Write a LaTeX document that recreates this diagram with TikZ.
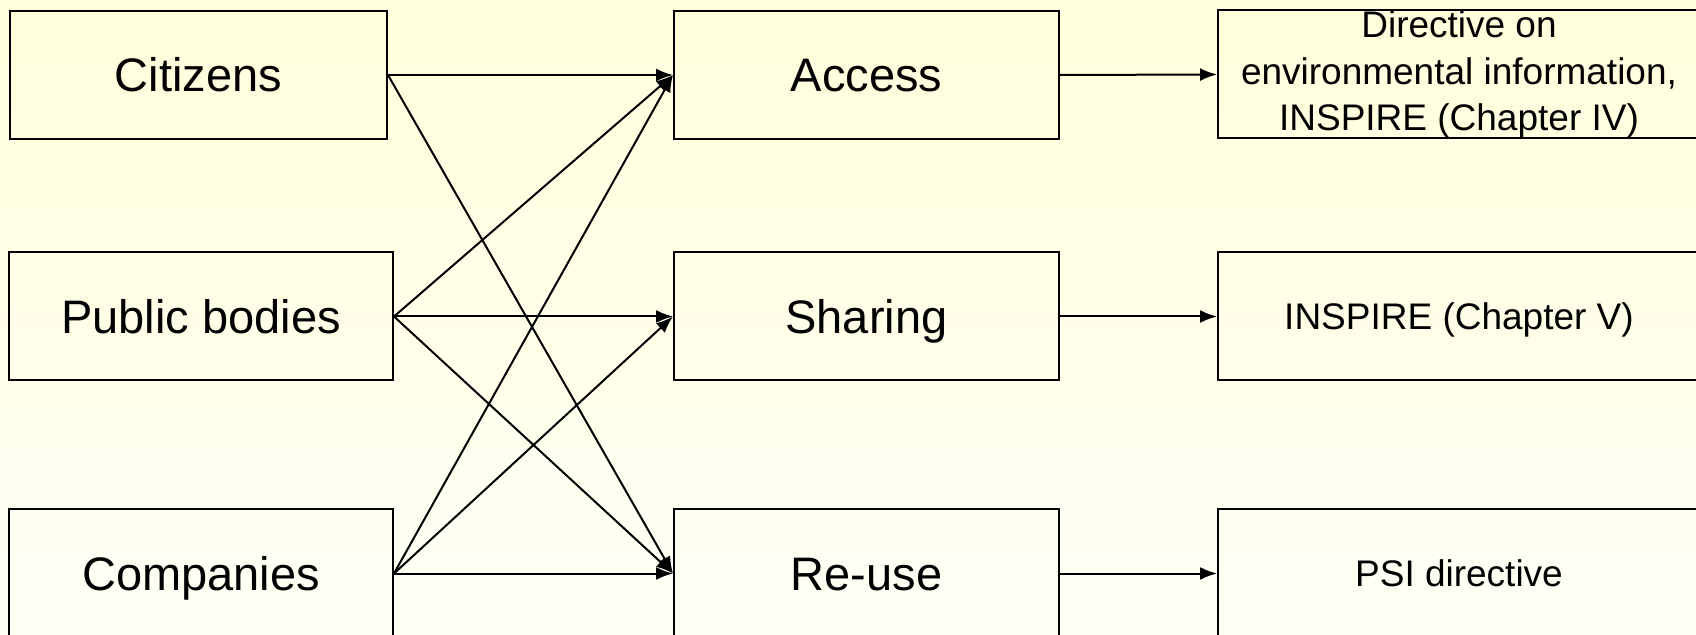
\documentclass[tikz,border=0pt]{standalone}
\usepackage{fontspec}
\setmainfont{Liberation Sans}
\usetikzlibrary{arrows.meta}

\definecolor{bgtop}{RGB}{255,255,220}
\definecolor{bgbottom}{RGB}{255,255,246}

\begin{document}
\begin{tikzpicture}[x=0.5pt, y=-0.5pt,
	every node/.style = {draw, line width=1pt, inner sep=0pt, align=center, minimum height=64pt},
	actor/.style = {minimum width=192pt, text height=16.8pt, text depth=0pt, font=\fontsize{23.5}{28}\selectfont},
	mode/.style = {actor, minimum width=192.5pt},
	law/.style = {minimum width=241pt, font=\fontsize{18.5}{23.25}\selectfont},
	lawline/.style = {law, text height=13.3pt, text depth=0pt},
	link/.style = {line width=1pt, -{Latex[length=8.5pt,width=6.5pt]}}]
		\useasboundingbox (0,0) rectangle (1696,635);
		\shade[top color=bgtop, bottom color=bgbottom] (0,0) rectangle (1696,635);
		% who
		\node[actor, minimum width=188.5pt] (cit) at (198.5,75) {Citizens};
		\node[actor] (pub) at (201,316.5) {Public bodies};
		\node[actor] (com) at (201,573.5) {Companies};
		% what
		\node[mode] (acc) at (866.5,75) {Access};
		\node[mode] (sha) at (866.5,316.5) {Sharing};
		\node[mode] (reu) at (866.5,573.5) {Re-use};
		% legislation
		\node[law] (dir) at (1459,74.5) {Directive on\\environmental information,\\INSPIRE (Chapter IV)};
		\node[lawline] (ins) at (1459,316.5) {INSPIRE (Chapter V)};
		\node[lawline] (psi) at (1459,573.5) {PSI directive};
		\draw[link] (cit.east) -- (acc.west);
		\draw[link] (cit.east) -- (reu.west);
		\draw[link] (pub.east) -- (acc.west);
		\draw[link] (pub.east) -- (sha.west);
		\draw[link] (pub.east) -- (reu.west);
		\draw[link] (com.east) -- (acc.west);
		\draw[link] (com.east) -- (sha.west);
		\draw[link] (com.east) -- (reu.west);
		\draw[link] (acc.east) -- (dir.west);
		\draw[link] (sha.east) -- (ins.west);
		\draw[link] (reu.east) -- (psi.west);
\end{tikzpicture}
\end{document}
